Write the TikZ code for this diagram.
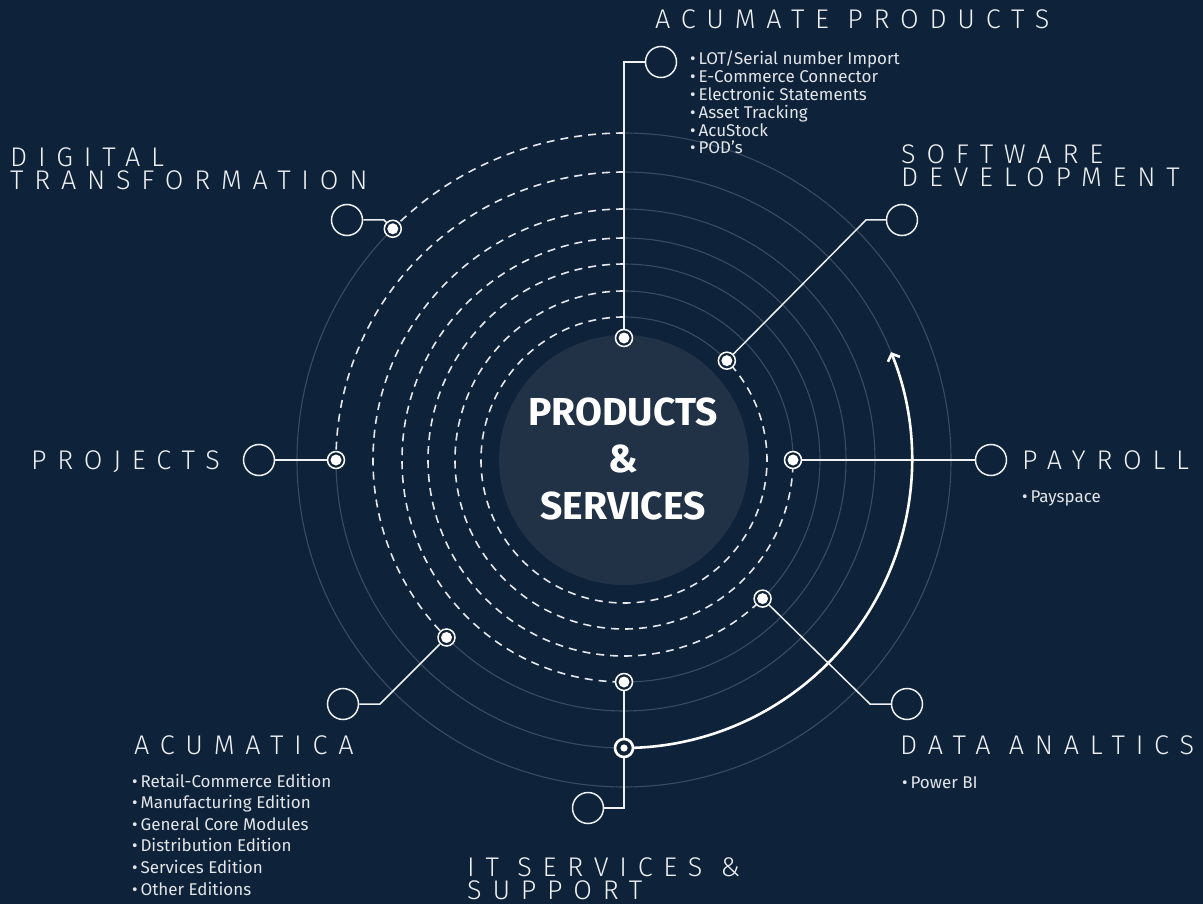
\documentclass[tikz,border=0pt]{standalone}
\usepackage{fontspec}
\setmainfont{Fira Sans}
\newfontfamily\titlefont[LetterSpace=40]{Fira Sans Light}
\newfontfamily\itemfont{Fira Sans}
\usetikzlibrary{arrows.meta}
\definecolor{bg}{HTML}{0E2239}
\definecolor{disc}{HTML}{213247}
\definecolor{faint}{HTML}{3A4B62}
\definecolor{dashc}{HTML}{E4E8EC}
\definecolor{linec}{HTML}{EEF0F2}
\definecolor{txt}{HTML}{EEF0F2}
\definecolor{txt2}{HTML}{E2E5E9}
\tikzset{
 ring/.style={draw=faint, line width=1.1pt},
 dashring/.style={draw=dashc, line width=1.6pt, dash pattern=on 8pt off 6pt},
 conn/.style={draw=linec, line width=1.5pt},
 hub/.style={circle, draw=linec, line width=1.5pt, minimum size=31pt, inner sep=0pt},
 dotn/.style={circle, draw=white, line width=1.5pt, fill=bg, minimum size=17pt, inner sep=0pt,
   path picture={\fill[white] (path picture bounding box.center) circle[radius=5.5pt];}},
 bigdot/.style={circle, draw=white, line width=2.6pt, fill=bg, minimum size=18pt, inner sep=0pt,
   path picture={\fill[white] (path picture bounding box.center) circle[radius=3.6pt];}},
 title/.style={anchor=base west, inner sep=0pt, text=txt, align=left, font=\titlefont\fontsize{27}{23}\selectfont},
 item/.style={anchor=base west, inner sep=0pt, text=txt2, font=\itemfont\fontsize{17}{18}\selectfont},
 center text/.style={anchor=center, inner sep=0pt, text=white, align=center, font=\bfseries\fontsize{39}{47}\selectfont},
}
\begin{document}
\begin{tikzpicture}[x=1pt,y=1pt]
\fill[bg] (0,0) rectangle (1203,-904);
\useasboundingbox (0,0) rectangle (1203,-904);
\coordinate (C) at (624,-460);
\fill[disc] (C) circle[radius=125];
% rings: radius / dot angle / dashed end angle
\foreach \r/\a/\e in {143/44/404, 169/0/360, 196/-45/315, 222/-90/270, 251/-135/225, 288/-180/180, 327/-225/135}{
  \draw[ring] ([shift={(\a:\r)}]C) arc[start angle=\a, end angle=90, radius=\r];
  \draw[dashring] ([shift={(90:\r)}]C) arc[start angle=90, end angle=\e, radius=\r];
}
% cycle arrow
\draw[white, line width=2.6pt, -{Straight Barb[length=6pt,width=13pt]}] ([shift={(-90:288)}]C) arc[start angle=-90, end angle=22, radius=288];
% centre text
\node[center text] (ctext) at (623,-459) {PRODUCTS\\\&\\SERVICES};
% dots
\node[dotn] (dAP) at (624,-338) {};
\node[dotn] (dSD) at ([shift={(44:143)}]C) {};
\node[dotn] (dPR) at ([shift={(0:169)}]C) {};
\node[dotn] (dDA) at ([shift={(-45:196)}]C) {};
\node[dotn] (dIT) at ([shift={(-90:222)}]C) {};
\node[dotn] (dAC) at ([shift={(-135:251)}]C) {};
\node[dotn] (dPJ) at ([shift={(180:288)}]C) {};
\node[dotn] (dDT) at ([shift={(135:327)}]C) {};
\node[bigdot] (dIT2) at ([shift={(-90:288)}]C) {};
% hubs
\node[hub] (cAP) at (661,-62) {};
\node[hub] (cSD) at (902,-220) {};
\node[hub] (cPR) at (991,-460) {};
\node[hub] (cDA) at (907,-704) {};
\node[hub] (cIT) at (588,-808) {};
\node[hub] (cAC) at (343,-704) {};
\node[hub] (cPJ) at (259,-460) {};
\node[hub] (cDT) at (347,-220) {};
\coordinate (kSD) at (866,-220);
\coordinate (kDA) at (870,-704);
\coordinate (kAC) at (380,-704);
\coordinate (kDT) at (384,-220);
% connectors
\draw[conn] (cAP.west) -| (dAP.north);
\draw[conn] (dSD) -- (kSD) -- (cSD.west);
\draw[conn] (dPR) -- (cPR);
\draw[conn] (dDA) -- (kDA) -- (cDA.west);
\draw[conn] (dIT) -- (dIT2);
\draw[conn] (dIT2) |- (cIT.east);
\draw[conn] (dAC) -- (kAC) -- (cAC.east);
\draw[conn] (dPJ) -- (cPJ);
\draw[conn] (dDT) -- (kDT) -- (cDT.east);
% titles
\node[title] (hAP) at (655,-29) {ACUMATE PRODUCTS};
\node[title] (hSD) at (901,-187) {SOFTWARE\\DEVELOPMENT};
\node[title] (hDT) at (10,-190) {DIGITAL\\TRANSFORMATION};
\node[title] (hPJ) at (31,-469) {PROJECTS};
\node[title] (hPR) at (1022,-469) {PAYROLL};
\node[title] (hDA) at (900,-754) {DATA ANALTICS};
\node[title] (hAC) at (134,-754) {ACUMATICA};
\node[title] (hIT) at (467,-899) {IT SERVICES \&\\SUPPORT};
% items
\foreach \t [count=\i from 0] in {LOT/Serial number Import, E-Commerce Connector, Electronic Statements, Asset Tracking, AcuStock, POD’s}{
  \node[item] (iAP\i) at (690,{-65-17.8*\i}) {•\,\t};
}
\foreach \t [count=\i from 0] in {Retail-Commerce Edition, Manufacturing Edition, General Core Modules, Distribution Edition, Services Edition, Other Editions}{
  \node[item] (iAC\i) at (132,{-787-21.6*\i}) {•\,\t};
}
\node[item] (iPR) at (1022,-502) {•\,Payspace};
\node[item] (iDA) at (902,-788) {•\,Power BI};
\end{tikzpicture}
\end{document}
